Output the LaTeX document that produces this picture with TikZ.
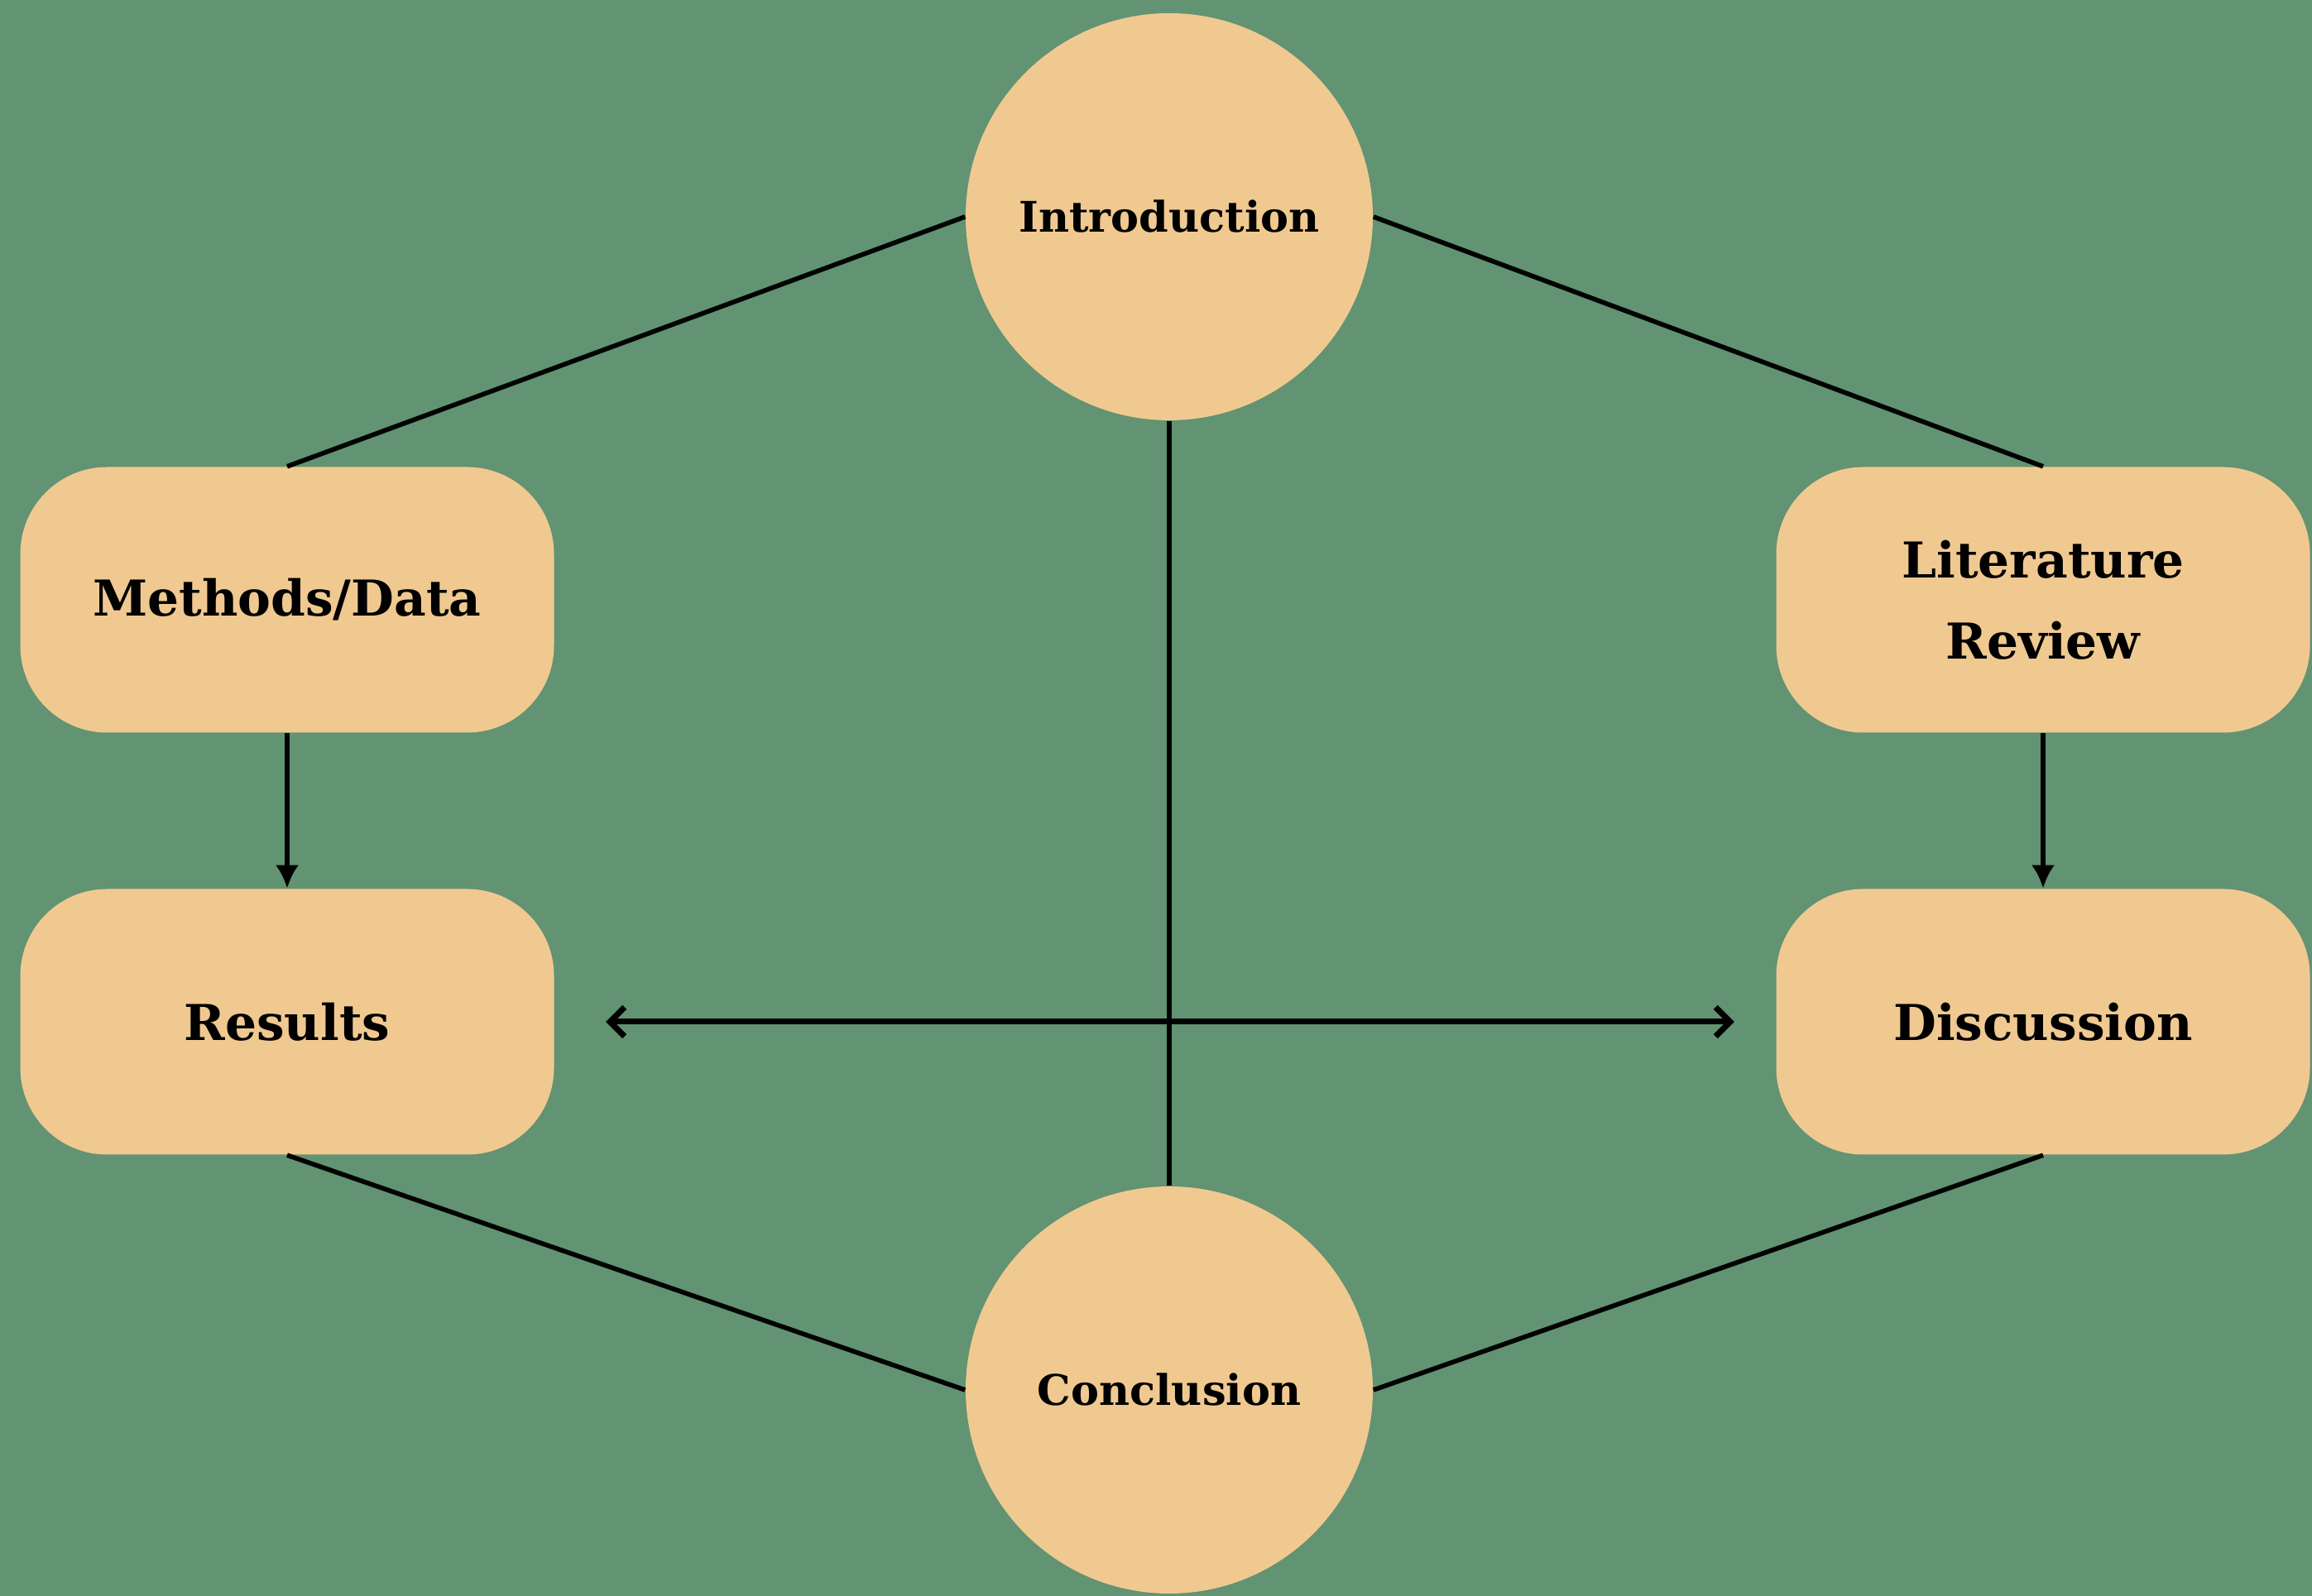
\documentclass[tikz,border=0pt]{standalone}
\usepackage{fontspec}
\setmainfont{DejaVu Serif}
\usetikzlibrary{arrows.meta}
\definecolor{boardgreen}{RGB}{98,147,114}
\definecolor{peach}{RGB}{240,201,145}
\tikzstyle{partbox} = [fill=peach, rectangle, rounded corners=1.05cm,
    minimum width=6.45cm, minimum height=3.21cm, align=center,
    font=\bfseries\fontsize{17}{28}\selectfont]
\tikzstyle{partcircle} = [fill=peach, circle, minimum size=4.92cm,
    inner sep=0pt, font=\bfseries\fontsize{14.5}{18}\selectfont]
\tikzstyle{link} = [draw=black, line width=1.6pt]

\begin{document}
\begin{tikzpicture}
                \fill[boardgreen] (0,0) rectangle (27.94,19.29);
                \useasboundingbox (0,0) rectangle (27.94,19.29);
                \node [partcircle] (intro) at (14.13,16.67) {Introduction};
                \node [partcircle] (concl) at (14.13,2.49) {Conclusion};
                \node [partbox] (meth) at (3.47,12.04) {Methods/Data};
                \node [partbox] (res) at (3.47,6.94) {Results};
                \node [partbox] (lit) at (24.69,12.04) {Literature\\Review};
                \node [partbox] (disc) at (24.69,6.94) {Discussion};
                % outer ring
                \draw [link] (intro.west) -- (meth.north);
                \draw [link] (intro.east) -- (lit.north);
                \draw [link] (res.south) -- (concl.west);
                \draw [link] (disc.south) -- (concl.east);
                \draw [link] (intro) -- (concl);
                % arrows
                \draw [link, -{Latex[length=8pt,width=8pt]}] (meth) -- (res);
                \draw [link, -{Latex[length=8pt,width=8pt]}] (lit) -- (disc);
                \draw [link, line width=2pt, {Straight Barb[length=5pt,width=10pt]}-{Straight Barb[length=5pt,width=10pt]},
                    shorten <=0.62cm, shorten >=0.5cm] (res) -- (disc);
            \end{tikzpicture}
\end{document}
